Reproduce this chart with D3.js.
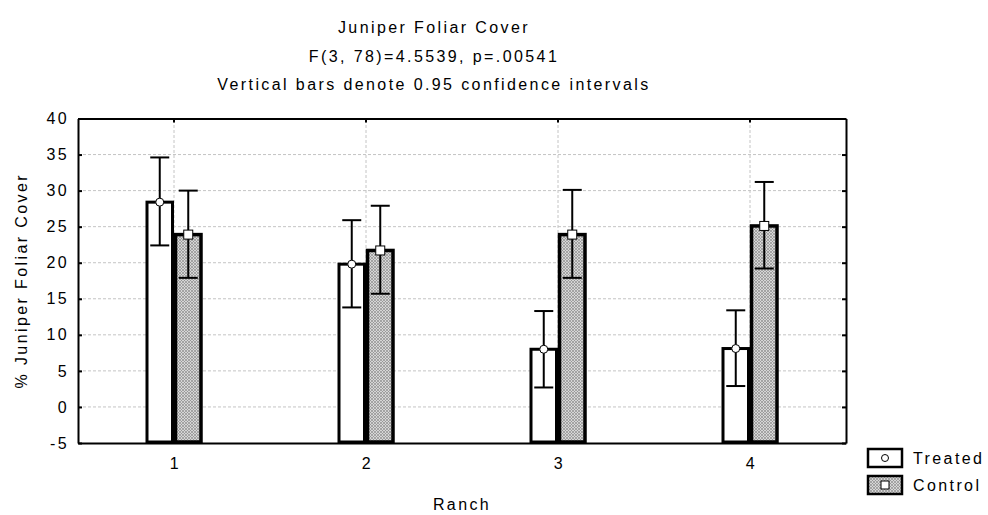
<!DOCTYPE html>
<html>
<head>
<meta charset="utf-8">
<script src="https://cdnjs.cloudflare.com/ajax/libs/d3/7.8.5/d3.min.js"></script>
<style>
  body { margin: 0; background: #fff; }
  text { font-family: "Liberation Sans", Arial, sans-serif; fill: #000; font-size: 16px; letter-spacing: 2.4px; }
</style>
</head>
<body>
<div id="chart"></div>
<script>
// data
var ranches = ["1", "2", "3", "4"];
var groups = ["Treated", "Control"];
var treatedMean = [28.4, 19.8, 8.0, 8.1];
var treatedLow = [22.4, 13.8, 2.7, 2.9];
var treatedHigh = [34.6, 25.9, 13.3, 13.4];
var controlMean = [23.9, 21.7, 23.9, 25.1];
var controlLow = [17.9, 15.7, 17.9, 19.2];
var controlHigh = [30.0, 27.9, 30.1, 31.2];
var yTicks = [-5, 0, 5, 10, 15, 20, 25, 30, 35, 40];
var titleLines = ["Juniper Foliar Cover", "F(3, 78)=4.5539, p=.00541",
    "Vertical bars denote 0.95 confidence intervals"];

var width = 988, height = 515;
var margin = {top: 118.5, right: 142, bottom: 72, left: 78};

var svg = d3.select("#chart")
    .append("svg")
    .attr("width", width)
    .attr("height", height);

// hatched fill for the control bars
var pat = svg.append("defs").append("pattern")
    .attr("id", "hatch")
    .attr("patternUnits", "userSpaceOnUse")
    .attr("width", 3)
    .attr("height", 3);
pat.append("rect").attr("width", 3).attr("height", 3).attr("fill", "#d6d6d6");
pat.append("path").attr("d", "M0,3 L3,0 M0,0 L3,3").attr("stroke", "#8e8e8e").attr("stroke-width", 0.7);

var x = d3.scaleBand()
    .domain(ranches)
    .range([margin.left, width - margin.right]);
var xSub = d3.scaleBand()
    .domain(groups)
    .range([-28.5, 28.5]);
var y = d3.scaleLinear()
    .domain([-5, 40])
    .range([height - margin.bottom, margin.top]);

var x0 = margin.left, x1 = width - margin.right;
var y0 = y(-5), y1 = y(40);

// grid lines
svg.append("g").selectAll("line")
    .data(yTicks.slice(1, -1))
    .join("line")
    .attr("x1", x0).attr("x2", x1)
    .attr("y1", d => y(d)).attr("y2", d => y(d))
    .attr("stroke", "#c4c4c4").attr("stroke-dasharray", "3,2");
svg.append("g").selectAll("line")
    .data(ranches)
    .join("line")
    .attr("x1", d => x(d) + x.bandwidth() / 2).attr("x2", d => x(d) + x.bandwidth() / 2)
    .attr("y1", y0).attr("y2", y1)
    .attr("stroke", "#c4c4c4").attr("stroke-dasharray", "3,2");

// build rows for bars
var rows = [];
ranches.forEach(function (r, i) {
    rows.push({ranch: r, group: "Treated", mean: treatedMean[i], low: treatedLow[i], high: treatedHigh[i]});
    rows.push({ranch: r, group: "Control", mean: controlMean[i], low: controlLow[i], high: controlHigh[i]});
});
function cx(d) { return x(d.ranch) + x.bandwidth() / 2 + xSub(d.group) + xSub.bandwidth() / 2; }

// bars
svg.append("g").selectAll("rect")
    .data(rows)
    .join("rect")
    .attr("x", d => cx(d) - xSub.bandwidth() / 2 + 1.5)
    .attr("width", xSub.bandwidth() - 3)
    .attr("y", d => y(d.mean))
    .attr("height", d => y0 - y(d.mean) - 1)
    .attr("fill", d => d.group == "Treated" ? "#fff" : "url(#hatch)")
    .attr("stroke", "#000")
    .attr("stroke-width", d => d.group == "Treated" ? 3 : 3.5);

// error bars
var eb = svg.append("g").selectAll("g")
    .data(rows)
    .join("g");
eb.append("line")
    .attr("x1", cx).attr("x2", cx)
    .attr("y1", d => y(d.low)).attr("y2", d => y(d.high))
    .attr("stroke", "#000").attr("stroke-width", 2);
eb.selectAll(".cap")
    .data(d => [d.low, d.high].map(v => ({v: v, d: d})))
    .join("line")
    .attr("x1", e => cx(e.d) - 9.5)
    .attr("x2", e => cx(e.d) + 9.5)
    .attr("y1", e => y(e.v)).attr("y2", e => y(e.v))
    .attr("stroke", "#000").attr("stroke-width", 2);

// mean markers
eb.filter(d => d.group == "Treated").append("circle")
    .attr("cx", cx)
    .attr("cy", d => y(d.mean))
    .attr("r", 4)
    .attr("fill", "#fff").attr("stroke", "#000").attr("stroke-width", 1);
eb.filter(d => d.group == "Control").append("rect")
    .attr("x", d => cx(d) - 4.5)
    .attr("y", d => y(d.mean) - 4.5)
    .attr("width", 9).attr("height", 9)
    .attr("fill", "#fff").attr("stroke", "#000").attr("stroke-width", 1);

// frame with inward ticks
svg.append("g")
    .attr("transform", "translate(" + x0 + ",0)")
    .call(d3.axisLeft(y).tickValues(yTicks).tickFormat(d => String(d))
        .tickSizeInner(-4).tickSizeOuter(0).tickPadding(9))
    .call(g => g.select(".domain").attr("stroke-width", 2))
    .call(g => g.selectAll(".tick line").attr("stroke-width", 2))
    .call(g => g.selectAll("text").attr("font-size", null).attr("font-family", null));
svg.append("g")
    .attr("transform", "translate(" + x1 + ",0)")
    .call(d3.axisRight(y).tickValues(yTicks).tickSizeInner(-4).tickSizeOuter(0).tickFormat(""))
    .call(g => g.select(".domain").attr("stroke-width", 2))
    .call(g => g.selectAll(".tick line").attr("stroke-width", 2));
svg.append("g")
    .attr("transform", "translate(0," + y0 + ")")
    .call(d3.axisBottom(x).tickSizeInner(-4).tickSizeOuter(0).tickPadding(15))
    .call(g => g.select(".domain").attr("stroke-width", 2))
    .call(g => g.selectAll(".tick line").attr("stroke-width", 2))
    .call(g => g.selectAll("text").attr("dx", 1.5).attr("font-size", null).attr("font-family", null));
svg.append("g")
    .attr("transform", "translate(0," + y1 + ")")
    .call(d3.axisTop(x).tickSizeInner(-4).tickSizeOuter(0).tickFormat(""))
    .call(g => g.select(".domain").attr("stroke-width", 2))
    .call(g => g.selectAll(".tick line").attr("stroke-width", 2));

// titles
svg.append("g").selectAll("text")
    .data(titleLines)
    .join("text")
    .attr("x", 434)
    .attr("y", (d, i) => 33 + i * 28.5)
    .attr("text-anchor", "middle")
    .text(d => d);

// axis labels
svg.append("text")
    .attr("transform", "translate(27," + ((y0 + y1) / 2) + ") rotate(-90)")
    .attr("text-anchor", "middle")
    .text("% Juniper Foliar Cover");
svg.append("text")
    .attr("x", (x0 + x1) / 2)
    .attr("y", 510)
    .attr("text-anchor", "middle")
    .text("Ranch");

// legend
var leg = svg.append("g").selectAll("g")
    .data(groups)
    .join("g")
    .attr("transform", (d, i) => "translate(868," + (449 + i * 27) + ")");
leg.append("rect")
    .attr("width", 34).attr("height", 18)
    .attr("fill", d => d == "Treated" ? "#fff" : "url(#hatch)")
    .attr("stroke", "#000").attr("stroke-width", 2.5);
leg.filter(d => d == "Treated").append("circle")
    .attr("cx", 17).attr("cy", 9).attr("r", 3.5)
    .attr("fill", "#fff").attr("stroke", "#000");
leg.filter(d => d == "Control").append("rect")
    .attr("x", 13).attr("y", 5).attr("width", 8).attr("height", 8)
    .attr("fill", "#fff").attr("stroke", "#000");
leg.append("text")
    .attr("x", 45).attr("y", 15)
    .text(d => d);
</script>
</body>
</html>
